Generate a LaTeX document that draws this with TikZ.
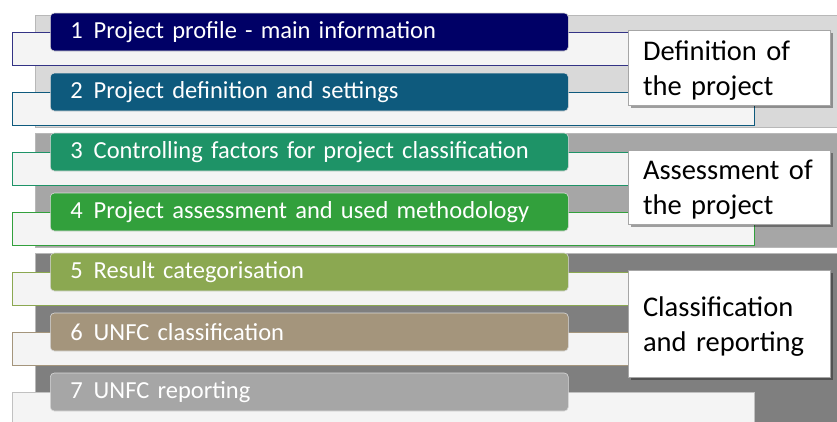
\documentclass[tikz,border=0pt]{standalone}
\usepackage{fontspec}
\setmainfont{Carlito}
\usetikzlibrary{positioning,shadows}
\definecolor{stepA}{RGB}{0,0,102}
\definecolor{stepB}{RGB}{14,90,125}
\definecolor{stepC}{RGB}{30,147,103}
\definecolor{stepD}{RGB}{50,160,60}
\definecolor{stepE}{RGB}{139,168,81}
\definecolor{stepF}{RGB}{164,149,124}
\definecolor{stepG}{RGB}{166,166,166}
\definecolor{paneA}{RGB}{217,217,217}
\definecolor{paneB}{RGB}{166,166,166}
\definecolor{paneC}{RGB}{127,127,127}
\definecolor{trayfill}{RGB}{244,244,244}
\tikzset{
  pane/.style={draw=black!28,line width=0.5pt},
  tray/.style={fill=trayfill,line width=0.8pt},
  bar/.style={rounded corners=4pt,draw=white!85!black,line width=0.6pt,text=white,
    anchor=west,minimum height=38pt,text width=478pt,inner xsep=20pt,inner ysep=0pt,
    align=left,font=\fontsize{24.5}{29}\selectfont},
  tag/.style={draw=black!35,fill=white,line width=0.6pt,
    drop shadow={shadow xshift=2.5pt,shadow yshift=-2.5pt,fill=black,opacity=0.35},
    text width=172pt,inner xsep=15pt,align=left,text height=20pt,text depth=35pt,
    font=\fontsize{28.5}{35}\selectfont},
}
\newcommand{\stepno}[1]{#1\hspace{0.45em}}

\begin{document}
\begin{tikzpicture}[x=1pt,y=-1pt]
  \clip (0,0) rectangle (837,421);
  % grey group panels
  \fill[white] (0,0) rectangle (837,421);
  \filldraw[pane,fill=paneA] (35,15) rectangle (840,127);
  \filldraw[pane,fill=paneB] (35,133) rectangle (840,247);
  \filldraw[pane,fill=paneC] (35,253) rectangle (840,430);
  % trays under the bars
  \filldraw[tray,draw=stepA!80!white] (12,32) rectangle (754,65);
  \filldraw[tray,draw=stepB] (12,92) rectangle (754,125);
  \filldraw[tray,draw=stepC] (12,152) rectangle (754,185);
  \filldraw[tray,draw=stepD] (12,212) rectangle (754,245);
  \filldraw[tray,draw=stepE] (12,272) rectangle (754,305);
  \filldraw[tray,draw=stepF] (12,332) rectangle (754,365);
  \filldraw[tray,draw=stepG!70!white] (12,392) rectangle (754,440);
  % step bars
  \node[bar,fill=stepA] (b1) at (50,32)  {\stepno{1}Project profile - main information};
  \node[bar,fill=stepB] (b2) at (50,92)  {\stepno{2}Project definition and settings};
  \node[bar,fill=stepC] (b3) at (50,152) {\stepno{3}Controlling factors for project classification};
  \node[bar,fill=stepD] (b4) at (50,212) {\stepno{4}Project assessment and used methodology};
  \node[bar,fill=stepE] (b5) at (50,272) {\stepno{5}Result categorisation};
  \node[bar,fill=stepF] (b6) at (50,332) {\stepno{6}UNFC classification};
  \node[bar,fill=stepG] (b7) at (50,392) {\stepno{7}UNFC reporting};
  % group labels
  \node[tag,minimum height=75pt] (g1) at (729,67.5) {Definition of\\the project};
  \node[tag,minimum height=74pt] (g2) at (729,187) {Assessment of\\the project};
  \node[tag,minimum height=107pt] (g3) at (729,323.5) {Classification\\and reporting};
\end{tikzpicture}
\end{document}
